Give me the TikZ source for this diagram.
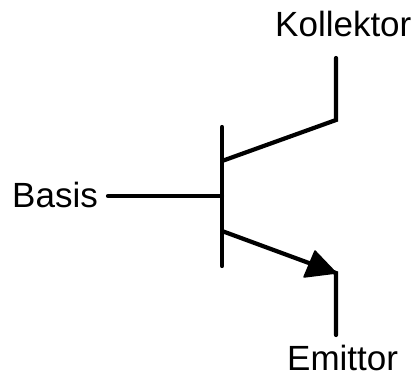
\documentclass[tikz,border=0pt]{standalone}
\usepackage{fontspec}
\setmainfont{Liberation Sans}
\tikzset{
  lbl/.style={inner sep=0pt,font=\fontsize{35}{37}\selectfont,anchor=base west,text=black},
  wire/.style={line width=4.2pt,line cap=round,line join=miter,draw=black},
  tip/.style={fill=black,draw=black,line width=1.5pt,line join=round}
}
\begin{document}
\begin{tikzpicture}[x=1pt,y=-1pt]
\useasboundingbox (0,0) rectangle (412,377);
\fill[white] (0,0) rectangle (412,377);
\node[lbl] (kollektor) at (275,37) {Kollektor};
\node[lbl] (basis) at (12,207) {Basis};
\node[lbl] (emittor) at (287,370) {Emittor};
\coordinate (bartop) at (222,127);
\coordinate (barbot) at (222,266);
\coordinate (basein) at (108,196);
\coordinate (barmid) at (222,196);
\coordinate (cbar) at (222,161);
\coordinate (cknee) at (336,120);
\coordinate (cend) at (336,58);
\coordinate (ebar) at (222,231);
\coordinate (eknee) at (336,273);
\coordinate (eend) at (336,335);
\coordinate (tipa) at (315,251);
\coordinate (tipb) at (304,277);
\draw[wire] (bartop) -- (barbot);
\draw[wire] (basein) -- (barmid);
\draw[wire] (cbar) -- (cknee) -- (cend);
\draw[wire] (ebar) -- (eknee) -- (eend);
\filldraw[tip] (eknee) -- (tipa) -- (tipb) -- cycle;
\end{tikzpicture}
\end{document}
